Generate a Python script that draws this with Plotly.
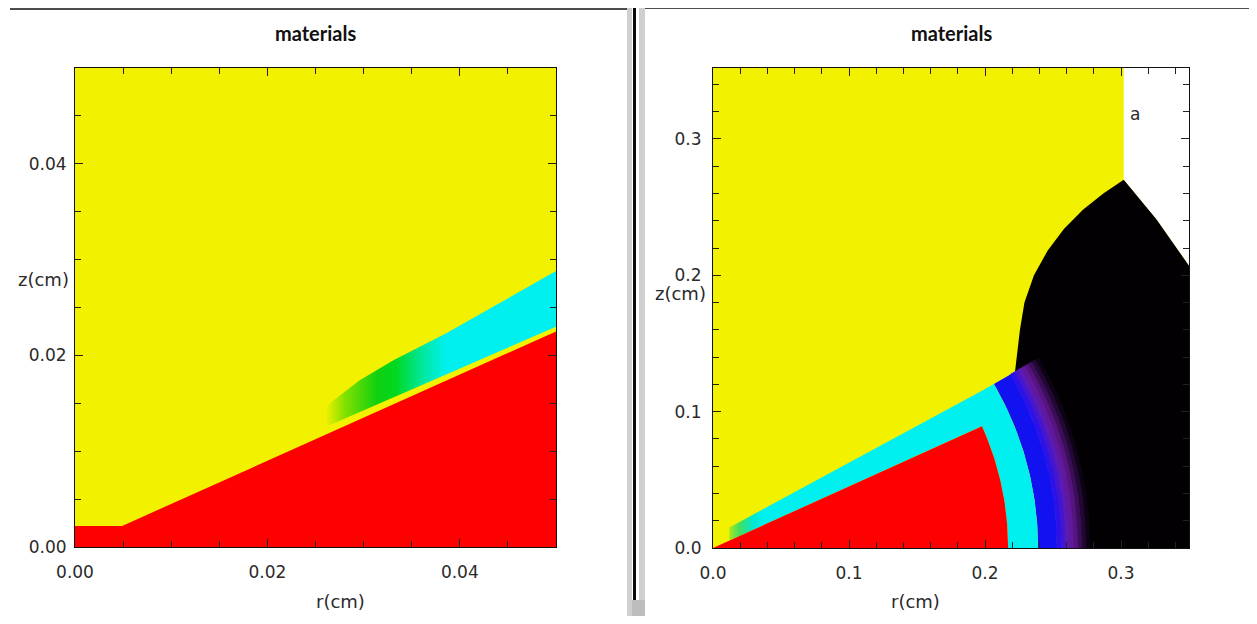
import numpy as np
import plotly.graph_objects as go

# page has an 8px body margin, so the figure is sized to fit the 1257x624 window
OFF = 8
W, H = 1257 - 2 * OFF, 624 - 2 * OFF

# ---------------- data ----------------
TITLE = "materials"
X_LABEL = "r(cm)"
Y_LABEL = "z(cm)"

# left panel (zoomed view of the jet tip)
L_range = [0.0, 0.05]
L_tickvals = [0.0, 0.02, 0.04]
L_ticktext = ["0.00", "0.02", "0.04"]
L_minor = 0.005
L_red_r = [0.0, 0.0, 0.0049, 0.05, 0.05]
L_red_z = [0.0, 0.0022, 0.0022, 0.0225, 0.0]
L_jet_top_r = [0.0262, 0.0296, 0.0331, 0.0386, 0.0435, 0.0500]
L_jet_top_z = [0.0148, 0.0174, 0.0195, 0.0223, 0.0251, 0.0288]
L_jet_bot_r = [0.0500, 0.0262]
L_jet_bot_z = [0.0230, 0.0126]

# right panel (full view)
R_range_x = [0.0, 0.35]
R_range_z = [0.0, 0.352]
R_tickvals = [0.0, 0.1, 0.2, 0.3]
R_ticktext = ["0.0", "0.1", "0.2", "0.3"]
R_minor = 0.02
R_red_radius = 0.217
R_red_angle = 24.3          # degrees
R_ring_angle = 30.2         # degrees
R_cyan_ring = [0.217, 0.239]
R_blue_ring = [0.239, 0.253]
R_fade_radii = [0.253, 0.256, 0.259, 0.262, 0.265, 0.268, 0.271, 0.274, 0.277]
R_fade_colors = ["#2c12e8", "#4416d0", "#5a1ab4", "#62189a", "#561480",
                 "#3c0e58", "#220834", "#0e0314"]
R_strip_r = [0.012, 0.1976, 0.2066, 0.012]
R_strip_z = [0.0054, 0.0892, 0.1200, 0.0150]
R_shock_r = [0.222, 0.2257, 0.229, 0.236, 0.246, 0.258, 0.272, 0.287, 0.302, 0.326, 0.35, 0.35, 0.262]
R_shock_z = [0.1287, 0.160, 0.180, 0.200, 0.218, 0.234, 0.248, 0.260, 0.270, 0.241, 0.207, 0.0, 0.0]
R_black_arc_radius = 0.262
R_white_r = [0.302, 0.302, 0.35, 0.35, 0.326]
R_white_z = [0.270, 0.352, 0.352, 0.207, 0.241]
R_note = "a"
R_note_pos = [0.310, 0.318]

YELLOW = "#f2f200"
RED = "#fe0000"
CYAN = "#00f0f0"
BLUE = "#1212f0"
BLACK = "#030003"
TXT = "#2a2a2a"


def arc(r, a0, a1, n=80):
    t = np.radians(np.linspace(a0, a1, n))
    return list(r * np.cos(t)), list(r * np.sin(t))


def annulus(r0, r1, a0, a1):
    xo, yo = arc(r1, a0, a1)
    xi, yi = arc(r0, a1, a0)
    return xo + xi, yo + yi


def poly(x, y, color, xa, ya, lw=0):
    return go.Scatter(x=x, y=y, mode="lines", fill="toself", fillcolor=color,
                      line=dict(width=lw, color=color), xaxis=xa, yaxis=ya,
                      hoverinfo="skip", showlegend=False)


fig = go.Figure()

# ---- left panel ----
fig.add_trace(poly(L_red_r, L_red_z, RED, "x", "y"))
fig.add_trace(go.Scatter(
    x=L_jet_top_r + L_jet_bot_r, y=L_jet_top_z + L_jet_bot_z, mode="lines",
    fill="toself", line=dict(width=0), xaxis="x", yaxis="y",
    hoverinfo="skip", showlegend=False,
    fillgradient=dict(type="horizontal", start=L_jet_top_r[0], stop=L_jet_top_r[-1],
                      colorscale=[[0.0, "#e8f000"], [0.08, "#80e000"], [0.22, "#10d010"],
                                  [0.30, "#00d820"], [0.42, "#00e8a0"], [0.52, CYAN],
                                  [1.0, CYAN]])))

# ---- right panel ----
fig.add_trace(poly(R_white_r, R_white_z, "#ffffff", "x2", "y2"))
bx, by = arc(R_black_arc_radius, 0, R_ring_angle)
fig.add_trace(poly(R_shock_r + bx, R_shock_z + by, BLACK, "x2", "y2"))
for i in range(len(R_fade_colors) - 1, -1, -1):
    x, y = annulus(R_fade_radii[i], R_fade_radii[i + 1], 0, R_ring_angle)
    fig.add_trace(poly(x, y, R_fade_colors[i], "x2", "y2", lw=1))
x, y = annulus(R_blue_ring[0], R_blue_ring[1], 0, R_ring_angle)
fig.add_trace(poly(x, y, BLUE, "x2", "y2"))
x, y = annulus(R_cyan_ring[0], R_cyan_ring[1], 0, R_ring_angle)
fig.add_trace(poly(x, y, CYAN, "x2", "y2"))
fig.add_trace(go.Scatter(
    x=R_strip_r, y=R_strip_z, mode="lines", fill="toself", line=dict(width=0),
    xaxis="x2", yaxis="y2", hoverinfo="skip", showlegend=False,
    fillgradient=dict(type="horizontal", start=R_strip_r[0], stop=R_strip_r[2],
                      colorscale=[[0.0, "#a8e820"], [0.04, "#40e060"], [0.09, "#00e8d0"],
                                  [0.13, CYAN], [1.0, CYAN]])))
rx, ry = arc(R_red_radius, 0, R_red_angle)
fig.add_trace(poly([0.0] + rx, [0.0] + ry, RED, "x2", "y2"))


def px_x(p):
    return (p - OFF) / W


def px_y(p):
    return (H - (p - OFF)) / H


tickfont = dict(family="DejaVu Sans", size=17, color=TXT)
common = dict(showline=True, linecolor="#111111", linewidth=1, mirror="ticks",
              ticks="inside", ticklen=8, tickwidth=1, tickcolor="#222222",
              showgrid=False, zeroline=False, tickfont=tickfont, fixedrange=True,
              automargin=False)

fig.update_layout(
    width=W, height=H, margin=dict(l=0, r=0, t=0, b=0, autoexpand=False),
    paper_bgcolor="#ffffff", plot_bgcolor=YELLOW,
    xaxis=dict(domain=[px_x(75), px_x(556)], range=L_range, anchor="y",
               tickvals=L_tickvals, ticktext=L_ticktext, ticklabelstandoff=10,
               minor=dict(ticks="inside", ticklen=6, dtick=L_minor, tickcolor="#222222"),
               **common),
    yaxis=dict(domain=[px_y(547), px_y(68)], range=L_range, anchor="x",
               tickvals=L_tickvals, ticktext=L_ticktext, ticklabelstandoff=4,
               minor=dict(ticks="inside", ticklen=6, dtick=L_minor, tickcolor="#222222"),
               **common),
    xaxis2=dict(domain=[px_x(713), px_x(1189)], range=R_range_x, anchor="y2",
                tickvals=R_tickvals, ticktext=R_ticktext, ticklabelstandoff=10,
                minor=dict(ticks="inside", ticklen=6, dtick=R_minor, tickcolor="#222222"),
                **common),
    yaxis2=dict(domain=[px_y(548), px_y(68)], range=R_range_z, anchor="x2",
                tickvals=R_tickvals, ticktext=R_ticktext, ticklabelstandoff=7,
                minor=dict(ticks="inside", ticklen=6, dtick=R_minor, tickcolor="#222222"),
                **common),
)

labfont = dict(family="DejaVu Sans", size=18, color=TXT)
titlefont = dict(family="Lato, Liberation Sans", size=20, color="#111111", weight="bold")
ann = []
for cx in (315.5, 951):
    ann.append(dict(x=px_x(cx), y=px_y(33), xref="paper", yref="paper", text=TITLE,
                    showarrow=False, font=titlefont, xanchor="center", yanchor="middle"))
ann.append(dict(x=px_x(340), y=px_y(601), xref="paper", yref="paper", text=X_LABEL,
                showarrow=False, font=labfont, xanchor="center", yanchor="middle"))
ann.append(dict(x=px_x(915), y=px_y(601), xref="paper", yref="paper", text=X_LABEL,
                showarrow=False, font=labfont, xanchor="center", yanchor="middle"))
ann.append(dict(x=px_x(71), y=px_y(279), xref="paper", yref="paper", text=Y_LABEL,
                showarrow=False, font=labfont, xanchor="right", yanchor="middle"))
ann.append(dict(x=px_x(708), y=px_y(293), xref="paper", yref="paper", text=Y_LABEL,
                showarrow=False, font=labfont, xanchor="right", yanchor="middle"))
ann.append(dict(x=R_note_pos[0], y=R_note_pos[1], xref="x2", yref="y2", text=R_note,
                showarrow=False, font=dict(family="DejaVu Sans", size=17, color=TXT),
                xanchor="center", yanchor="middle"))
fig.update_layout(annotations=ann)

# window frame decorations of the screenshot
shapes = [
    dict(type="line", xref="paper", yref="paper", x0=px_x(10), x1=px_x(627),
         y0=px_y(9), y1=px_y(9), line=dict(color="#111111", width=1.5)),
    dict(type="line", xref="paper", yref="paper", x0=px_x(645), x1=1,
         y0=px_y(8), y1=px_y(8), line=dict(color="#111111", width=1.5)),
    dict(type="rect", xref="paper", yref="paper", x0=px_x(627), x1=px_x(632),
         y0=0, y1=px_y(OFF), fillcolor="#cfcfcf", line=dict(width=0)),
    dict(type="rect", xref="paper", yref="paper", x0=px_x(639), x1=px_x(645),
         y0=0, y1=px_y(OFF), fillcolor="#cfcfcf", line=dict(width=0)),
    dict(type="rect", xref="paper", yref="paper", x0=px_x(633), x1=px_x(636),
         y0=0, y1=px_y(OFF), fillcolor="#0a0a0a", line=dict(width=0)),
    dict(type="rect", xref="paper", yref="paper", x0=px_x(632), x1=px_x(645),
         y0=0, y1=px_y(600), fillcolor="#bdbdbd", line=dict(width=0)),
]
fig.update_layout(shapes=shapes)

fig.write_html("out.html")
